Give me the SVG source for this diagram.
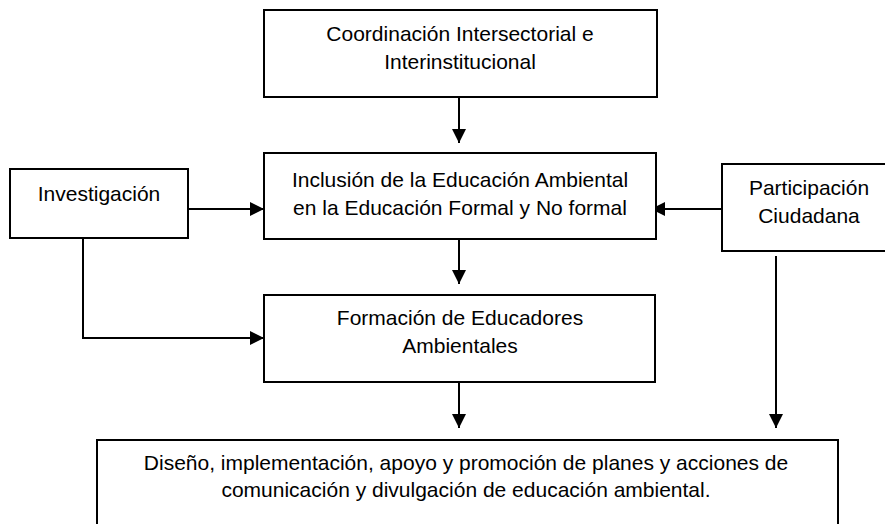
<svg xmlns="http://www.w3.org/2000/svg" width="885" height="524" viewBox="0 0 885 524">
<defs>
<marker id="ah" viewBox="0 0 14 14" refX="14" refY="7" markerWidth="14" markerHeight="14" markerUnits="userSpaceOnUse" orient="auto">
<path d="M0,0 L14,7 L0,14 z" fill="#000"/>
</marker>
<style>
.box{fill:#fff;stroke:#000;stroke-width:2}
.t{font-family:"Liberation Sans",Arial,sans-serif;font-size:21px;fill:#000;text-anchor:middle}
.c{fill:none;stroke:#000;stroke-width:2}
.a{marker-end:url(#ah)}
</style>
</defs>
<rect width="885" height="524" fill="#fff"/>
<g id="connectors">
<line class="c a" x1="459" y1="97" x2="459" y2="143"/>
<line class="c a" x1="188" y1="209" x2="264" y2="209"/>
<line class="c a" x1="722" y1="209" x2="651" y2="209"/>
<polyline class="c a" points="83,238 83,338 264,338"/>
<line class="c a" x1="459" y1="239" x2="459" y2="284"/>
<line class="c a" x1="459" y1="382" x2="459" y2="428"/>
<line class="c a" x1="776" y1="256" x2="776" y2="428"/>
</g>
<g id="coordinacion">
<rect class="box" x="264" y="10" width="393" height="87"/>
<text class="t" x="460" y="41">Coordinación Intersectorial e</text>
<text class="t" x="460" y="69">Interinstitucional</text>
</g>
<g id="inclusion">
<rect class="box" x="264" y="153" width="392" height="86"/>
<text class="t" x="460" y="187">Inclusión de la Educación Ambiental</text>
<text class="t" x="460" y="215">en la Educación Formal y No formal</text>
</g>
<g id="investigacion">
<rect class="box" x="10" y="169" width="178" height="69"/>
<text class="t" x="99" y="201">Investigación</text>
</g>
<g id="participacion">
<rect class="box" x="722" y="164" width="174" height="87"/>
<text class="t" x="809" y="195">Participación</text>
<text class="t" x="809" y="223">Ciudadana</text>
</g>
<g id="formacion">
<rect class="box" x="264" y="295" width="391" height="87"/>
<text class="t" x="460" y="325">Formación de Educadores</text>
<text class="t" x="460" y="353">Ambientales</text>
</g>
<g id="diseno">
<rect class="box" x="97" y="440" width="741" height="100"/>
<text class="t" x="466" y="470">Diseño, implementación, apoyo y promoción de planes y acciones de</text>
<text class="t" x="466" y="497">comunicación y divulgación de educación ambiental.</text>
</g>
</svg>
